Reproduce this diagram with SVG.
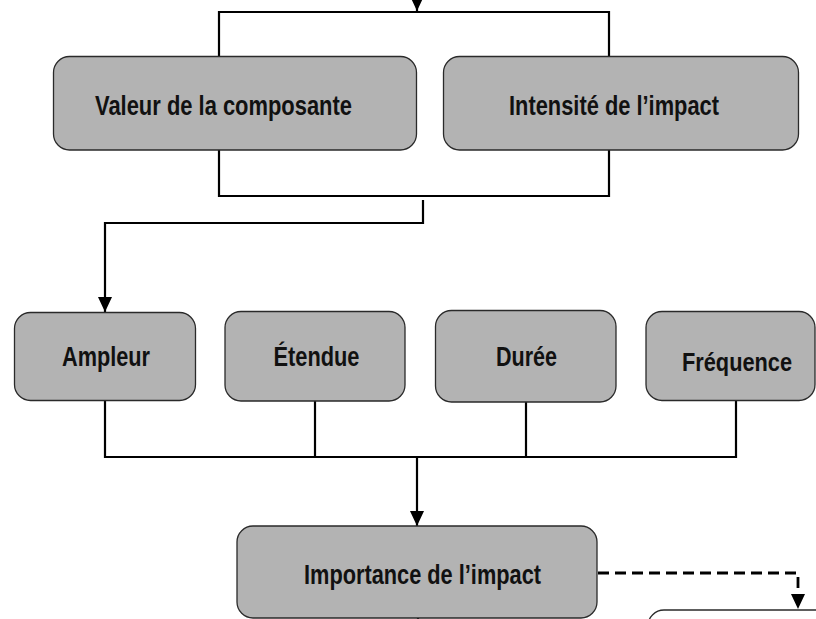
<svg xmlns="http://www.w3.org/2000/svg" width="816" height="619" viewBox="0 0 816 619">
<style>
.box{fill:#b3b3b3;stroke:#2a2a2a;stroke-width:1.3}
.wbox{fill:#ffffff;stroke:#2a2a2a;stroke-width:1.3}
.lbl{font-family:"Liberation Sans Narrow","Liberation Sans",Arial,sans-serif;font-weight:bold;font-size:27px;fill:#111111}
.ln{fill:none;stroke:#000000;stroke-width:2.2}
.dash{fill:none;stroke:#000000;stroke-width:2.8;stroke-dasharray:11,6}
</style>
<defs>
<marker id="arr" markerUnits="userSpaceOnUse" markerWidth="15" markerHeight="14" refX="15" refY="7" orient="auto" viewBox="0 0 15 14">
<path d="M0,0 L15,7 L0,14 z" fill="#000000"/>
</marker>
</defs>
<rect width="816" height="619" fill="#ffffff"/>
<g id="connectors">
<path class="ln" d="M417,-20 V11" marker-end="url(#arr)"/>
<path class="ln" d="M219,57 V12 H609 V57"/>
<path class="ln" d="M219,150 V196 H609 V150"/>
<path class="ln" d="M423,200 V223 H105 V312" marker-end="url(#arr)"/>
<path class="ln" d="M105,400 V457 H736 V400"/>
<path class="ln" d="M315,401 V457"/>
<path class="ln" d="M526,402 V457"/>
<path class="ln" d="M417,457 V526" marker-end="url(#arr)"/>
<path class="dash" d="M598,573 H798 V609" marker-end="url(#arr)"/>
<path class="ln" d="M418,618 V630"/>
</g>
<g id="node-valeur">
<rect class="box" x="53.5" y="56.5" width="363" height="93.5" rx="16"/>
<text class="lbl" x="95" y="115" textLength="257" lengthAdjust="spacingAndGlyphs">Valeur de la composante</text>
</g>
<g id="node-intensite">
<rect class="box" x="443.5" y="56.5" width="355" height="93.5" rx="16"/>
<text class="lbl" x="509" y="115" textLength="210" lengthAdjust="spacingAndGlyphs">Intensité de l’impact</text>
</g>
<g id="node-ampleur">
<rect class="box" x="14.5" y="312.5" width="181" height="88" rx="16"/>
<text class="lbl" x="62" y="366" textLength="88" lengthAdjust="spacingAndGlyphs">Ampleur</text>
</g>
<g id="node-etendue">
<rect class="box" x="225" y="311.5" width="180" height="89.5" rx="16"/>
<text class="lbl" x="273.5" y="366" textLength="86" lengthAdjust="spacingAndGlyphs">Étendue</text>
</g>
<g id="node-duree">
<rect class="box" x="435.5" y="310.5" width="180.5" height="91.5" rx="16"/>
<text class="lbl" x="496" y="366" textLength="61" lengthAdjust="spacingAndGlyphs">Durée</text>
</g>
<g id="node-frequence">
<rect class="box" x="646" y="311.5" width="169" height="89" rx="16"/>
<text class="lbl" x="682" y="371" style="font-size:26px" textLength="110" lengthAdjust="spacingAndGlyphs">Fréquence</text>
</g>
<g id="node-importance">
<rect class="box" x="237" y="526" width="360" height="92" rx="16"/>
<text class="lbl" x="304" y="584" textLength="237" lengthAdjust="spacingAndGlyphs">Importance de l’impact</text>
</g>
<g id="node-next">
<rect class="wbox" x="648" y="610" width="200" height="50" rx="16"/>
</g>
</svg>
